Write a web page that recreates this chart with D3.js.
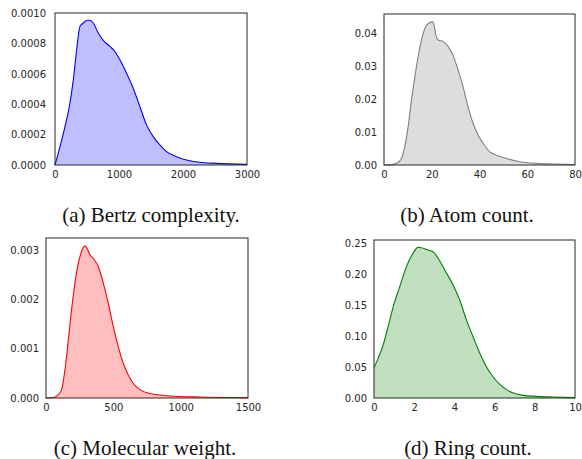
<!DOCTYPE html>
<html>
<head>
<meta charset="UTF-8">
<title>density panels</title>
<style>
  body { margin: 0; background: #fff; }
  .tick text { font-family: "DejaVu Sans", sans-serif; font-size: 10px; fill: #262626; }
  .caption { font-family: "Liberation Serif", "Times New Roman", serif; font-size: 21px; fill: #111; }
</style>
</head>
<body>
<script src="https://d3js.org/d3.v7.min.js"></script>
<script>
var width = 582, height = 459;

// (a) Bertz complexity
var bertzX = [0, 78, 156, 224, 286, 338, 390, 442, 504, 546, 598, 676, 754, 858, 936, 1014, 1118, 1222, 1326, 1430, 1534, 1638, 1742, 1898, 2054, 2262, 2522, 3000];
var bertzY = [0, 0.000121, 0.000253, 0.000385, 0.00056, 0.000758, 0.000912, 0.000934, 0.000952, 0.000952, 0.000934, 0.000868, 0.00082, 0.00078, 0.000747, 0.000692, 0.000604, 0.000505, 0.000385, 0.000264, 0.000187, 0.000132, 0.000088, 0.000055, 0.000033, 0.0000176, 0.000011, 0.000004];
var bertzXTicks = [0, 1000, 2000, 3000];
var bertzYTicks = [0, 0.0002, 0.0004, 0.0006, 0.0008, 0.0010];

// (b) Atom count
var atomX = [0, 3.1, 5.2, 7.3, 8.7, 10.1, 11.5, 12.9, 14.3, 15.7, 17.1, 18.5, 20.3, 21, 21.7, 22.7, 24.8, 26.9, 28.9, 31, 33.1, 35.2, 37.3, 39.4, 41.5, 44.3, 47.1, 51.3, 56.9, 63.9, 70.9, 80];
var atomY = [0, 0.0001, 0.0005, 0.002, 0.0056, 0.0116, 0.0197, 0.0268, 0.0329, 0.038, 0.0415, 0.043, 0.0435, 0.0425, 0.0395, 0.038, 0.0375, 0.036, 0.0334, 0.0289, 0.0238, 0.0177, 0.0127, 0.0091, 0.0066, 0.004, 0.003, 0.002, 0.001, 0.0005, 0.0003, 0.0001];
var atomXTicks = [0, 20, 40, 60, 80];
var atomYTicks = [0, 0.01, 0.02, 0.03, 0.04];

// (c) Molecular weight
var molX = [0, 54, 91, 116, 141, 166, 190, 215, 240, 265, 289, 306, 326, 351, 388, 425, 462, 499, 536, 573, 610, 647, 697, 771, 894, 1142, 1500];
var molY = [0, 0.00001, 0.00007, 0.00017, 0.00058, 0.00118, 0.0018, 0.00234, 0.00274, 0.00298, 0.00309, 0.00303, 0.00291, 0.00284, 0.00267, 0.00234, 0.00193, 0.00146, 0.00105, 0.00071, 0.00047, 0.0003, 0.00017, 0.00009, 0.000047, 0.00002, 0.000007];
var molXTicks = [0, 500, 1000, 1500];
var molYTicks = [0, 0.001, 0.002, 0.003];

// (d) Ring count
var ringX = [0, 0.2, 0.45, 0.7, 0.95, 1.28, 1.61, 1.94, 2.19, 2.36, 2.61, 2.94, 3.19, 3.52, 3.94, 4.27, 4.6, 4.93, 5.27, 5.6, 5.93, 6.26, 6.59, 6.93, 7.43, 8.09, 8.92, 10];
var ringY = [0.0491, 0.0637, 0.0853, 0.115, 0.147, 0.18, 0.212, 0.234, 0.2435, 0.243, 0.240, 0.2365, 0.226, 0.207, 0.1825, 0.158, 0.126, 0.099, 0.072, 0.050, 0.034, 0.022, 0.0135, 0.0081, 0.0043, 0.0027, 0.0016, 0.0005];
var ringXTicks = [0, 2, 4, 6, 8, 10];
var ringYTicks = [0, 0.05, 0.10, 0.15, 0.20, 0.25];

var svg = d3.select("body").append("svg")
    .attr("width", width)
    .attr("height", height);

function panel(opt) {
    var x = d3.scaleLinear().domain(opt.xDomain).range([opt.left, opt.right]);
    var y = d3.scaleLinear().domain(opt.yDomain).range([opt.bottom, opt.top]);
    var pts = opt.xs.map(function(d, i) { return [d, opt.ys[i]]; });
    var g = svg.append("g");

    var area = d3.area()
        .x(function(d) { return x(d[0]); })
        .y0(y(0))
        .y1(function(d) { return y(d[1]); })
        .curve(d3.curveMonotoneX);
    var line = d3.line()
        .x(function(d) { return x(d[0]); })
        .y(function(d) { return y(d[1]); })
        .curve(d3.curveMonotoneX);

    g.append("path").datum(pts)
        .attr("d", area)
        .attr("fill", opt.fill);
    g.append("path").datum(pts)
        .attr("d", line)
        .attr("fill", "none")
        .attr("stroke", opt.stroke)
        .attr("stroke-width", 1.1);

    // frame
    g.append("rect")
        .attr("x", opt.left).attr("y", opt.top)
        .attr("width", opt.right - opt.left)
        .attr("height", opt.bottom - opt.top)
        .attr("fill", "none")
        .attr("stroke", "#262626")
        .attr("stroke-width", 1);

    var xa = g.append("g")
        .attr("transform", "translate(0," + opt.bottom + ")")
        .call(d3.axisBottom(x).tickValues(opt.xTicks).tickSize(0).tickPadding(6).tickFormat(d3.format("d")));
    xa.select(".domain").remove();

    var ya = g.append("g")
        .attr("transform", "translate(" + opt.left + ",0)")
        .call(d3.axisLeft(y).tickValues(opt.yTicks).tickSize(0).tickPadding(opt.ypad).tickFormat(d3.format(opt.yFmt)));
    ya.select(".domain").remove();

    svg.append("text")
        .attr("class", "caption")
        .attr("x", opt.capX)
        .attr("y", opt.capY)
        .attr("text-anchor", "middle")
        .text(opt.caption);
}

panel({ xs: bertzX, ys: bertzY, xTicks: bertzXTicks, yTicks: bertzYTicks,
    xDomain: [0, 3000], yDomain: [0, 0.001], yFmt: ".4f", ypad: 9,
    left: 55, right: 247, top: 13, bottom: 165,
    fill: "#bfbfff", stroke: "#0000ff", caption: "(a) Bertz complexity.", capX: 151, capY: 222 });

panel({ xs: atomX, ys: atomY, xTicks: atomXTicks, yTicks: atomYTicks,
    xDomain: [0, 80], yDomain: [0, 0.0459], yFmt: ".2f", ypad: 7,
    left: 384, right: 575, top: 14, bottom: 165,
    fill: "#dddddd", stroke: "#808080", caption: "(b) Atom count.", capX: 467, capY: 222 });

panel({ xs: molX, ys: molY, xTicks: molXTicks, yTicks: molYTicks,
    xDomain: [0, 1500], yDomain: [0, 0.00325], yFmt: ".3f", ypad: 7,
    left: 46, right: 248, top: 238, bottom: 398,
    fill: "#ffbfbf", stroke: "#ff0000", caption: "(c) Molecular weight.", capX: 145, capY: 455 });

panel({ xs: ringX, ys: ringY, xTicks: ringXTicks, yTicks: ringYTicks,
    xDomain: [0, 10], yDomain: [0, 0.2555], yFmt: ".2f", ypad: 7,
    left: 374, right: 575, top: 240, bottom: 398,
    fill: "#bfdfbf", stroke: "#008000", caption: "(d) Ring count.", capX: 468, capY: 455 });
</script>
</body>
</html>
